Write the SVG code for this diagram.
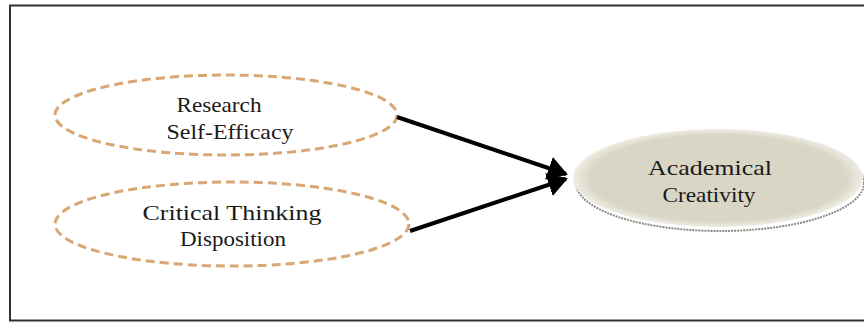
<svg xmlns="http://www.w3.org/2000/svg" width="864" height="325" viewBox="0 0 864 325">
<style>
.lbl{font-family:"Liberation Serif","Times New Roman",serif;font-size:21px;fill:#1a1a1a;text-anchor:middle}
.dash{fill:#ffffff;stroke:#d9a774;stroke-width:3;stroke-dasharray:9 5}
.conn{stroke:#000;stroke-width:4;fill:none}
</style>
<defs>
<marker id="ah" markerWidth="6" markerHeight="6" refX="4.5" refY="3" orient="auto" markerUnits="strokeWidth">
<path d="M0,0 L5,3 L0,6 Z" fill="#000"/>
</marker>
<radialGradient id="g3" cx="0.5" cy="0.5" r="0.5">
<stop offset="0.88" stop-color="#d9d6c6"/>
<stop offset="1" stop-color="#efede4"/>
</radialGradient>
</defs>
<rect x="0" y="0" width="864" height="325" fill="#fff"/>
<rect x="10" y="5.5" width="870" height="315" fill="none" stroke="#333" stroke-width="2"/>
<g id="node-research">
<ellipse class="dash" cx="226" cy="115" rx="171" ry="40"/>
<text class="lbl" x="219" y="112" textLength="85" lengthAdjust="spacingAndGlyphs">Research</text>
<text class="lbl" x="230" y="139" textLength="127" lengthAdjust="spacingAndGlyphs">Self-Efficacy</text>
</g>
<g id="node-critical">
<ellipse class="dash" cx="232" cy="224" rx="177" ry="42"/>
<text class="lbl" x="232" y="220" textLength="179" lengthAdjust="spacingAndGlyphs">Critical Thinking</text>
<text class="lbl" x="233" y="246" textLength="106" lengthAdjust="spacingAndGlyphs">Disposition</text>
</g>
<g id="node-creativity">
<ellipse cx="720" cy="183" rx="144" ry="48" fill="none" stroke="#8a8a86" stroke-width="2" stroke-dasharray="2 1"/>
<ellipse cx="718" cy="178" rx="145" ry="49" fill="url(#g3)"/>
<text class="lbl" x="710" y="175" textLength="124" lengthAdjust="spacingAndGlyphs">Academical</text>
<text class="lbl" x="709" y="202" textLength="93" lengthAdjust="spacingAndGlyphs">Creativity</text>
</g>
<g id="connectors">
<line class="conn" x1="397" y1="117" x2="566" y2="174" marker-end="url(#ah)"/>
<line class="conn" x1="410" y1="231" x2="566" y2="179" marker-end="url(#ah)"/>
</g>
</svg>
